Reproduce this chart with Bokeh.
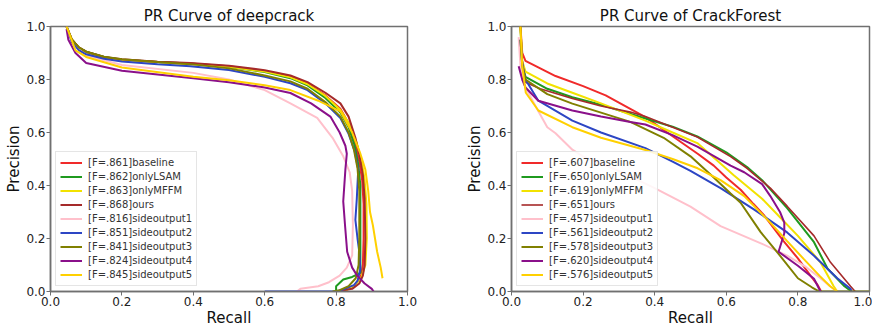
from bokeh.plotting import figure
from bokeh.layouts import row
from bokeh.models import Range1d, FixedTicker, NumeralTickFormatter, Legend, LegendItem
from bokeh.embed import file_html
from bokeh.resources import INLINE

names = ["baseline", "onlyLSAM", "onlyMFFM", "ours", "sideoutput1",
         "sideoutput2", "sideoutput3", "sideoutput4", "sideoutput5"]
colors = ["#f02a2a", "#1f9a1f", "#f2e200", "#a52a2a", "#ffc0cb",
          "#2d46c4", "#808000", "#8a108a", "#ffd000"]
ticks = [0.0, 0.2, 0.4, 0.6, 0.8, 1.0]

# ---------------- deepcrack ----------------
dc_f = [".861", ".862", ".863", ".868", ".816", ".851", ".841", ".824", ".845"]

dc_baseline_r = [0.045, 0.06, 0.08, 0.1, 0.15, 0.2, 0.3, 0.392, 0.5, 0.6, 0.672, 0.72, 0.77, 0.812, 0.835, 0.852, 0.865, 0.873, 0.877, 0.877, 0.875, 0.87, 0.85, 0.82]
dc_baseline_p = [1.0, 0.95, 0.92, 0.904, 0.884, 0.875, 0.866, 0.86, 0.85, 0.832, 0.81, 0.785, 0.74, 0.69, 0.635, 0.565, 0.49, 0.42, 0.33, 0.2, 0.1, 0.06, 0.02, 0.0]

dc_onlylsam_r = [0.045, 0.06, 0.08, 0.1, 0.15, 0.2, 0.3, 0.392, 0.5, 0.6, 0.672, 0.72, 0.77, 0.812, 0.835, 0.852, 0.862, 0.868, 0.868, 0.868, 0.845, 0.82, 0.80, 0.80]
dc_onlylsam_p = [1.0, 0.95, 0.92, 0.905, 0.885, 0.875, 0.866, 0.86, 0.848, 0.828, 0.805, 0.778, 0.73, 0.675, 0.62, 0.55, 0.48, 0.4, 0.2, 0.07, 0.055, 0.045, 0.02, 0.0]

dc_onlymffm_r = [0.045, 0.06, 0.08, 0.1, 0.15, 0.2, 0.3, 0.392, 0.5, 0.6, 0.672, 0.72, 0.77, 0.812, 0.838, 0.858, 0.872, 0.88, 0.885, 0.886, 0.882, 0.87, 0.85, 0.82]
dc_onlymffm_p = [1.0, 0.95, 0.92, 0.903, 0.883, 0.874, 0.865, 0.858, 0.848, 0.83, 0.808, 0.782, 0.738, 0.685, 0.63, 0.56, 0.49, 0.42, 0.33, 0.2, 0.1, 0.05, 0.02, 0.0]

dc_ours_r = [0.045, 0.06, 0.08, 0.1, 0.15, 0.2, 0.3, 0.392, 0.5, 0.6, 0.672, 0.72, 0.77, 0.812, 0.835, 0.854, 0.866, 0.875, 0.88, 0.882, 0.88, 0.875, 0.865, 0.845, 0.8]
dc_ours_p = [1.0, 0.95, 0.92, 0.905, 0.885, 0.876, 0.867, 0.862, 0.852, 0.835, 0.815, 0.79, 0.75, 0.71, 0.66, 0.58, 0.51, 0.44, 0.35, 0.2, 0.1, 0.06, 0.03, 0.01, 0.0]

dc_side1_r = [0.045, 0.06, 0.1, 0.2, 0.4, 0.5, 0.6, 0.672, 0.747, 0.79, 0.82, 0.838, 0.845, 0.847, 0.845, 0.83, 0.81, 0.78, 0.75, 0.7, 0.69]
dc_side1_p = [1.0, 0.94, 0.89, 0.855, 0.825, 0.8, 0.76, 0.71, 0.655, 0.58, 0.51, 0.45, 0.38, 0.25, 0.136, 0.09, 0.06, 0.035, 0.02, 0.01, 0.0]

dc_side2_r = [0.045, 0.06, 0.08, 0.1, 0.15, 0.2, 0.3, 0.392, 0.5, 0.6, 0.672, 0.72, 0.77, 0.812, 0.835, 0.852, 0.862, 0.858, 0.854, 0.86, 0.865, 0.868, 0.86, 0.85, 0.82, 0.8, 0.6]
dc_side2_p = [1.0, 0.94, 0.91, 0.895, 0.878, 0.868, 0.858, 0.85, 0.836, 0.81, 0.786, 0.76, 0.71, 0.655, 0.595, 0.53, 0.46, 0.35, 0.27, 0.2, 0.15, 0.085, 0.04, 0.024, 0.008, 0.0, 0.0]

dc_side3_r = [0.045, 0.06, 0.08, 0.1, 0.15, 0.2, 0.3, 0.392, 0.5, 0.6, 0.672, 0.72, 0.77, 0.812, 0.835, 0.85, 0.86, 0.865, 0.865, 0.863, 0.855, 0.835, 0.81, 0.79]
dc_side3_p = [1.0, 0.95, 0.92, 0.905, 0.886, 0.876, 0.866, 0.858, 0.842, 0.815, 0.793, 0.765, 0.715, 0.66, 0.6, 0.535, 0.465, 0.38, 0.2, 0.1, 0.05, 0.02, 0.005, 0.0]

dc_side4_r = [0.045, 0.05, 0.07, 0.1, 0.2, 0.4, 0.5, 0.6, 0.672, 0.73, 0.784, 0.81, 0.826, 0.83, 0.826, 0.82, 0.825, 0.831, 0.845, 0.859, 0.88, 0.9, 0.905]
dc_side4_p = [0.99, 0.95, 0.9, 0.862, 0.833, 0.805, 0.79, 0.77, 0.749, 0.71, 0.66, 0.6, 0.55, 0.52, 0.46, 0.34, 0.25, 0.15, 0.09, 0.06, 0.03, 0.01, 0.0]

dc_side5_r = [0.045, 0.07, 0.1, 0.2, 0.4, 0.5, 0.6, 0.672, 0.75, 0.812, 0.845, 0.868, 0.882, 0.89, 0.895, 0.903, 0.915, 0.925, 0.93]
dc_side5_p = [1.0, 0.91, 0.885, 0.845, 0.81, 0.797, 0.778, 0.76, 0.72, 0.68, 0.6, 0.52, 0.46, 0.38, 0.3, 0.25, 0.15, 0.09, 0.05]

# ---------------- CrackForest ----------------
cf_f = [".607", ".650", ".619", ".651", ".457", ".561", ".578", ".620", ".576"]

cf_baseline_r = [0.025, 0.03, 0.039, 0.123, 0.2, 0.263, 0.374, 0.472, 0.52, 0.565, 0.6, 0.64, 0.676, 0.704, 0.76, 0.8, 0.835, 0.855, 0.865]
cf_baseline_p = [1.0, 0.9, 0.87, 0.813, 0.775, 0.74, 0.658, 0.565, 0.52, 0.475, 0.43, 0.384, 0.33, 0.29, 0.19, 0.125, 0.06, 0.025, 0.0]

cf_onlylsam_r = [0.025, 0.03, 0.039, 0.1, 0.17, 0.25, 0.374, 0.45, 0.519, 0.6, 0.658, 0.7, 0.77, 0.845, 0.883, 0.93, 0.95]
cf_onlylsam_p = [1.0, 0.86, 0.81, 0.765, 0.733, 0.705, 0.653, 0.622, 0.585, 0.525, 0.47, 0.42, 0.315, 0.186, 0.086, 0.02, 0.0]

cf_onlymffm_r = [0.025, 0.03, 0.039, 0.1, 0.17, 0.25, 0.374, 0.45, 0.519, 0.62, 0.7, 0.75, 0.8, 0.863, 0.9, 0.91]
cf_onlymffm_p = [1.0, 0.87, 0.83, 0.785, 0.75, 0.71, 0.645, 0.6, 0.56, 0.44, 0.35, 0.28, 0.21, 0.11, 0.02, 0.0]

cf_ours_r = [0.025, 0.03, 0.039, 0.08, 0.17, 0.25, 0.332, 0.374, 0.45, 0.519, 0.612, 0.658, 0.723, 0.77, 0.845, 0.891, 0.947, 0.96]
cf_ours_p = [1.0, 0.87, 0.79, 0.765, 0.728, 0.7, 0.677, 0.66, 0.62, 0.583, 0.509, 0.465, 0.39, 0.322, 0.21, 0.11, 0.02, 0.0]

cf_side1_r = [0.02, 0.025, 0.03, 0.039, 0.075, 0.1, 0.123, 0.17, 0.2, 0.3, 0.4, 0.5, 0.584, 0.7, 0.77, 0.82, 0.863, 0.89, 0.91]
cf_side1_p = [0.96, 0.85, 0.8, 0.77, 0.68, 0.62, 0.597, 0.535, 0.51, 0.455, 0.39, 0.32, 0.247, 0.18, 0.135, 0.095, 0.05, 0.02, 0.0]

cf_side2_r = [0.025, 0.03, 0.039, 0.075, 0.17, 0.25, 0.374, 0.45, 0.5, 0.584, 0.677, 0.77, 0.845, 0.91, 0.947, 0.95]
cf_side2_p = [0.95, 0.86, 0.8, 0.72, 0.645, 0.6, 0.541, 0.49, 0.455, 0.39, 0.31, 0.223, 0.135, 0.05, 0.01, 0.0]

cf_side3_r = [0.025, 0.03, 0.039, 0.1, 0.17, 0.25, 0.332, 0.425, 0.5, 0.565, 0.612, 0.64, 0.696, 0.746, 0.8, 0.84, 0.86, 1.0]
cf_side3_p = [0.95, 0.85, 0.8, 0.745, 0.709, 0.675, 0.64, 0.58, 0.51, 0.43, 0.37, 0.335, 0.224, 0.142, 0.05, 0.015, 0.0, 0.0]

cf_side4_r = [0.02, 0.03, 0.039, 0.075, 0.17, 0.25, 0.332, 0.374, 0.45, 0.519, 0.612, 0.65, 0.7, 0.723, 0.75, 0.762, 0.762, 0.746, 0.8, 0.845, 0.863]
cf_side4_p = [0.85, 0.8, 0.77, 0.72, 0.683, 0.66, 0.64, 0.63, 0.59, 0.547, 0.475, 0.45, 0.405, 0.36, 0.3, 0.26, 0.22, 0.15, 0.097, 0.048, 0.0]

cf_side5_r = [0.025, 0.03, 0.04, 0.075, 0.17, 0.25, 0.374, 0.45, 0.52, 0.584, 0.65, 0.723, 0.77, 0.816, 0.86, 0.89, 0.91]
cf_side5_p = [1.0, 0.85, 0.75, 0.683, 0.62, 0.58, 0.534, 0.5, 0.465, 0.42, 0.36, 0.26, 0.19, 0.123, 0.06, 0.02, 0.0]

dc_curves = [(dc_baseline_r, dc_baseline_p), (dc_onlylsam_r, dc_onlylsam_p), (dc_onlymffm_r, dc_onlymffm_p),
             (dc_ours_r, dc_ours_p), (dc_side1_r, dc_side1_p), (dc_side2_r, dc_side2_p),
             (dc_side3_r, dc_side3_p), (dc_side4_r, dc_side4_p), (dc_side5_r, dc_side5_p)]
cf_curves = [(cf_baseline_r, cf_baseline_p), (cf_onlylsam_r, cf_onlylsam_p), (cf_onlymffm_r, cf_onlymffm_p),
             (cf_ours_r, cf_ours_p), (cf_side1_r, cf_side1_p), (cf_side2_r, cf_side2_p),
             (cf_side3_r, cf_side3_p), (cf_side4_r, cf_side4_p), (cf_side5_r, cf_side5_p)]

FONT = "DejaVu Sans"
FRAME_COL = "#707070"
TOP, FRAME_H, BOTTOM = 26, 265, 39


def make_panel(title, curves, fvals, border_left, border_right, frame_w):
    p = figure(width=border_left + frame_w + border_right, height=TOP + FRAME_H + BOTTOM,
               output_backend="svg", toolbar_location=None,
               x_range=Range1d(0, 1), y_range=Range1d(0, 1),
               min_border_left=border_left, min_border_right=border_right,
               min_border_top=TOP, min_border_bottom=BOTTOM, title=title)
    p.title.align = "center"
    p.title.text_font = FONT
    p.title.text_font_size = "15px"
    p.title.text_font_style = "normal"
    p.title.text_color = "#111111"
    p.title.standoff = 3
    p.title.offset = 0
    p.grid.visible = False
    p.outline_line_color = FRAME_COL
    p.outline_line_width = 1.5
    p.background_fill_color = "white"
    p.border_fill_color = "white"
    for ax in (p.xaxis[0], p.yaxis[0]):
        ax.ticker = FixedTicker(ticks=ticks)
        ax.formatter = NumeralTickFormatter(format="0.0")
        ax.minor_tick_line_color = None
        ax.major_tick_out = 4
        ax.major_tick_in = 0
        ax.major_tick_line_color = FRAME_COL
        ax.axis_line_color = FRAME_COL
        ax.axis_line_width = 1.5
        ax.major_label_text_font = FONT
        ax.major_label_text_font_size = "12px"
        ax.major_label_text_color = "#222222"
        ax.major_label_standoff = 1
        ax.axis_label_text_font = FONT
        ax.axis_label_text_font_size = "15px"
        ax.axis_label_text_font_style = "normal"
        ax.axis_label_text_color = "#111111"
        ax.axis_label_standoff = 0
    p.xaxis.axis_label = "Recall"
    p.yaxis.axis_label = "Precision"

    items = []
    for (r, pr), name, col, f in zip(curves, names, colors, fvals):
        lw = 1.6 if name == "ours" and title.endswith("Forest") else 2.0
        gl = p.line(r, pr, line_color=col, line_width=lw)
        items.append(LegendItem(label="[F=%s]%s" % (f, name), renderers=[gl]))
    leg = Legend(items=items, location=(5, 5))
    leg.label_text_font = FONT
    leg.label_text_font_size = "10px"
    leg.label_text_color = "#333333"
    leg.label_height = 13
    leg.glyph_height = 13
    leg.glyph_width = 22
    leg.label_standoff = 6
    leg.spacing = 1
    leg.padding = 4
    leg.margin = 0
    leg.border_line_color = "#cccccc"
    leg.border_line_width = 1
    leg.background_fill_alpha = 0.85
    p.add_layout(leg, "center")
    return p


p1 = make_panel("PR Curve of deepcrack", dc_curves, dc_f, 50, 33, 357)
p2 = make_panel("PR Curve of CrackForest", cf_curves, cf_f, 71, 3, 358)
layout = row(p1, p2)

open("out.html", "w").write(file_html(layout, INLINE))
